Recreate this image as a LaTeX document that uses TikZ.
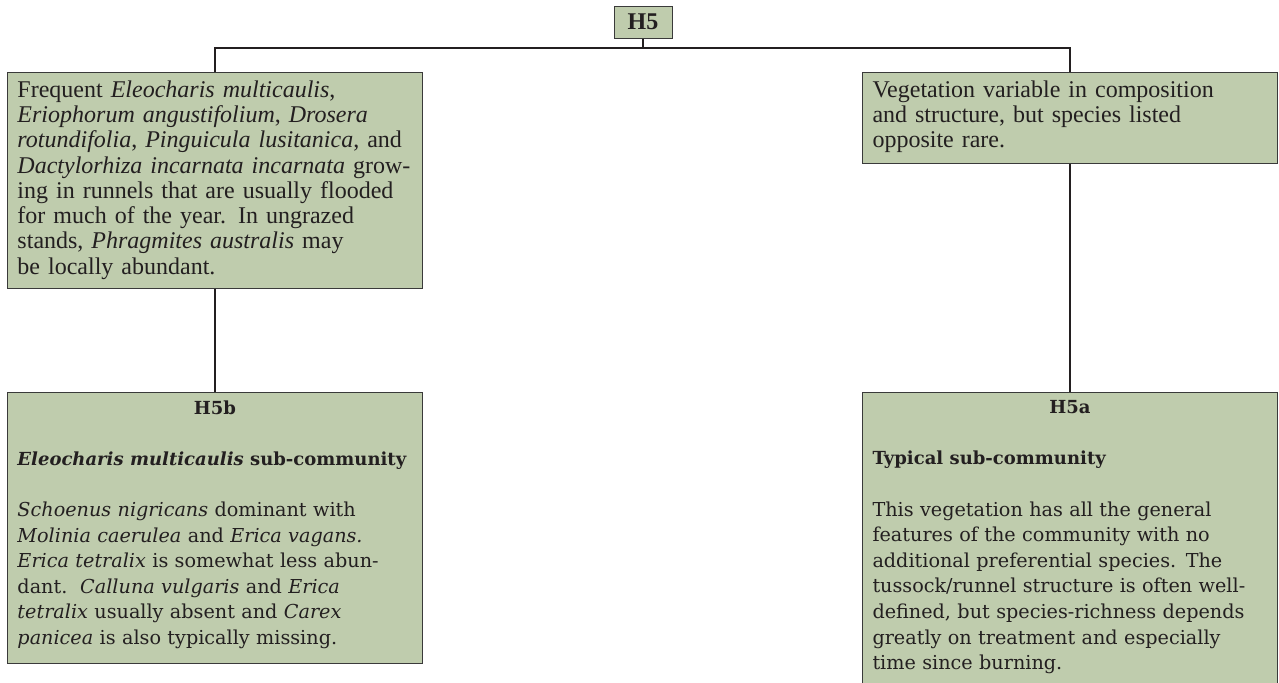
\documentclass[tikz,border=0pt]{standalone}
\usepackage{fontspec}
\setmainfont{Liberation Serif}
\newfontfamily\subfont{DejaVu Serif}
\definecolor{NVCgreen}{HTML}{BFCCAD}
\definecolor{NVCline}{HTML}{231F20}
\definecolor{NVCframe}{HTML}{3A3A3A}
\newcommand{\keysize}{\fontsize{12}{12.65}\selectfont}
\newcommand{\subsize}{\subfont\fontsize{9.6}{12.8}\selectfont}
\newcommand{\subhead}[1]{{\fontsize{9}{12.8}\selectfont\bfseries #1}}
\newcommand{\boxfoot}{\rule[-5.6pt]{0pt}{0pt}}
\tikzset{
  keybox/.style={draw=NVCframe, line width=0.5pt, fill=NVCgreen,
    text=NVCline, anchor=north west, text width=197.5pt,
    inner xsep=5pt, inner ysep=4pt, align=left, font=\keysize},
  subbox/.style={keybox, font=\subsize},
  link/.style={draw=NVCline, line width=1pt}
}

\begin{document}
\begin{tikzpicture}[x=0.5pt, y=-0.5pt]
  \useasboundingbox (0,0) rectangle (1279,682);

  % the community
  \node[draw=NVCframe, line width=0.5pt, fill=NVCgreen, text=NVCline,
    minimum width=29pt, minimum height=16pt, inner sep=0pt,
    font=\keysize\bfseries] (h5) at (643,22) {H5};

  % first couplet
  \node[keybox] (keyleft) at (7,72) {Frequent \textit{Eleocharis multicaulis},\\
    \textit{Eriophorum angustifolium}, \textit{Drosera}\\
    \textit{rotundifolia}, \textit{Pinguicula lusitanica}, and\\
    \textit{Dactylorhiza incarnata incarnata} grow-\\
    ing in runnels that are usually flooded\\
    for much of the year. In ungrazed\\
    stands, \textit{Phragmites australis} may\\
    be locally abundant.\rule[-3pt]{0pt}{0pt}};
  \node[keybox] (keyright) at (862,72) {Vegetation variable in composition\\
    and structure, but species listed\\
    opposite rare.\rule[-4pt]{0pt}{0pt}};

  % the sub-communities
  \node[subbox] (h5b) at (7,392) {\makebox[\linewidth]{\subhead{H5b}}\\[12.8pt]
    \subhead{\textit{Eleocharis multicaulis} sub-community}\\[12.8pt]
    \textit{Schoenus nigricans} dominant with\\
    \textit{Molinia caerulea} and \textit{Erica vagans.}\\
    \textit{Erica tetralix} is somewhat less abun-\\
    dant.\ \ \textit{Calluna vulgaris} and \textit{Erica}\\
    \textit{tetralix} usually absent and \textit{Carex}\\
    \textit{panicea} is also typically missing.\boxfoot};
  \node[subbox] (h5a) at (862,392) {\makebox[\linewidth]{\subhead{H5a}}\\[12.8pt]
    \subhead{Typical sub-community}\\[12.8pt]
    This vegetation has all the general\\
    features of the community with no\\
    additional preferential species. The\\
    tussock/runnel structure is often well-\\
    defined, but species-richness depends\\
    greatly on treatment and especially\\
    time since burning.\boxfoot};

  % connectors
  \coordinate (junction) at (643,48);
  \draw[link] (h5.south) -- (junction);
  \draw[link] (keyleft.north) |- (junction) -| (keyright.north);
  \draw[link] (keyleft.south) -- (h5b.north);
  \draw[link] (keyright.south) -- (h5a.north);

\end{tikzpicture}
\end{document}
